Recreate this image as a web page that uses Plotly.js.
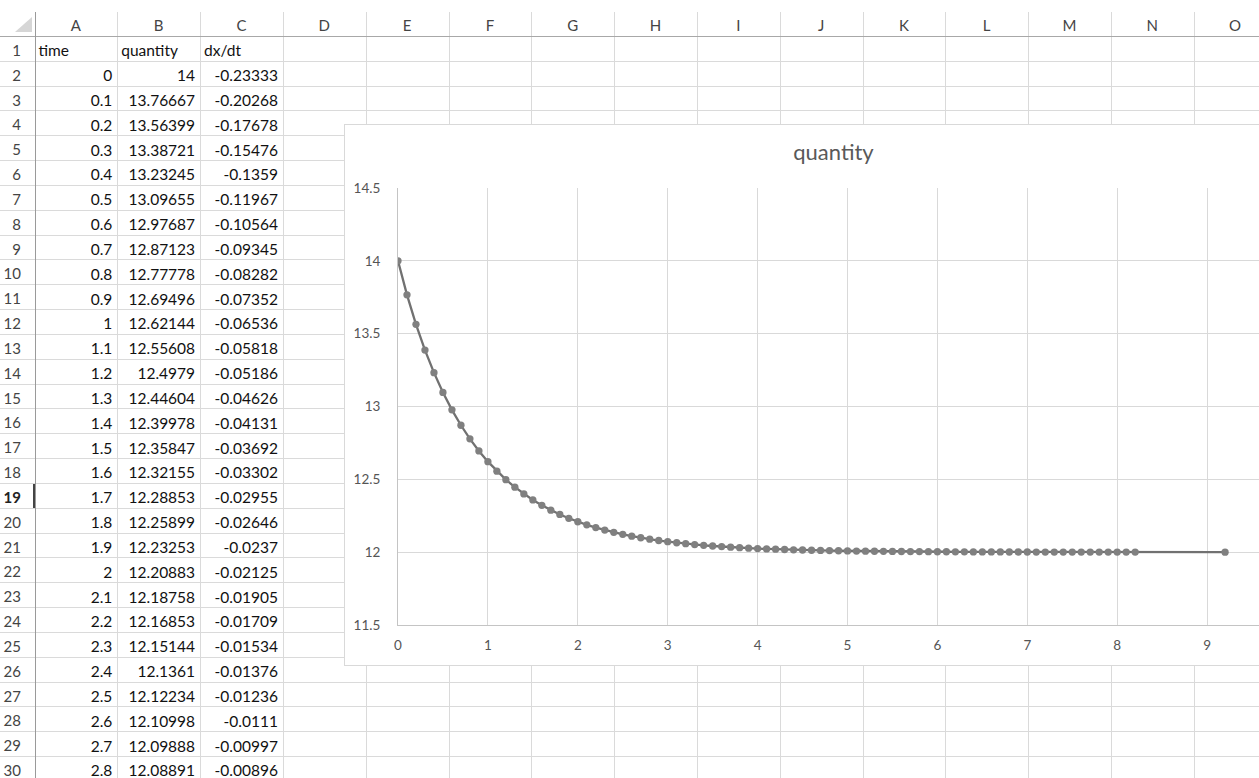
<!DOCTYPE html>
<html>
<head>
<meta charset="utf-8">
<script src="https://cdn.plot.ly/plotly-3.0.1.min.js"></script>
<style>
html,body{margin:0;padding:0;background:#fff;overflow:hidden;width:1259px;height:778px;}
#sheet{position:absolute;left:0;top:0;width:1259px;height:778px;overflow:hidden;font-family:Lato,'Open Sans',sans-serif;}
.hl{position:absolute;height:1px;background:#dadada;}
.vl{position:absolute;width:1px;background:#dadada;}
.t{position:absolute;font-size:15.5px;color:#111;white-space:nowrap;}
#chart{position:absolute;left:344px;top:124px;width:977px;height:540px;border:1px solid #d9d9d9;background:#fff;}
</style>
</head>
<body>
<div id="sheet"></div>
<div id="chart"></div>
<script>
// ---- spreadsheet contents ----
const colLetters = ["A","B","C","D","E","F","G","H","I","J","K","L","M","N","O"];
const headerRow = ["time","quantity","dx/dt"];
const timeLabels = ["0","0.1","0.2","0.3","0.4","0.5","0.6","0.7","0.8","0.9","1","1.1","1.2","1.3","1.4","1.5","1.6","1.7","1.8","1.9","2","2.1","2.2","2.3","2.4","2.5","2.6","2.7","2.8"];
const quantityLabels = ["14","13.76667","13.56399","13.38721","13.23245","13.09655","12.97687","12.87123","12.77778","12.69496","12.62144","12.55608","12.4979","12.44604","12.39978","12.35847","12.32155","12.28853","12.25899","12.23253","12.20883","12.18758","12.16853","12.15144","12.1361","12.12234","12.10998","12.09888","12.08891"];
const dxdtLabels = ["-0.23333","-0.20268","-0.17678","-0.15476","-0.1359","-0.11967","-0.10564","-0.09345","-0.08282","-0.07352","-0.06536","-0.05818","-0.05186","-0.04626","-0.04131","-0.03692","-0.03302","-0.02955","-0.02646","-0.0237","-0.02125","-0.01905","-0.01709","-0.01534","-0.01376","-0.01236","-0.0111","-0.00997","-0.00896"];

// ---- chart series ----
const chartTitle = "quantity";
const xTickVals = [0,1,2,3,4,5,6,7,8,9];
const time = [0,0.1,0.2,0.3,0.4,0.5,0.6,0.7,0.8,0.9,1,1.1,1.2,1.3,1.4,1.5,1.6,1.7,1.8,1.9,2,2.1,2.2,2.3,2.4,2.5,2.6,2.7,2.8,2.9,3,3.1,3.2,3.3,3.4,3.5,3.6,3.7,3.8,3.9,4,4.1,4.2,4.3,4.4,4.5,4.6,4.7,4.8,4.9,5,5.1,5.2,5.3,5.4,5.5,5.6,5.7,5.8,5.9,6,6.1,6.2,6.3,6.4,6.5,6.6,6.7,6.8,6.9,7,7.1,7.2,7.3,7.4,7.5,7.6,7.7,7.8,7.9,8,8.1,8.2,9.2];
const quantity = [14,13.76667,13.56399,13.38721,13.23245,13.09655,12.97687,12.87123,12.77778,12.69496,12.62144,12.55608,12.4979,12.44604,12.39978,12.35847,12.32155,12.28853,12.25899,12.23253,12.20883,12.18758,12.16853,12.15144,12.1361,12.12234,12.10998,12.09888,12.08891,
12.07995,12.0719,12.06467,12.05817,12.05232,12.04707,12.04234,12.03809,12.03427,12.03084,
12.02774,12.02496,12.02246,12.02021,12.01819,12.01637,12.01473,12.01325,12.01193,12.01073,
12.00966,12.00869,12.00782,12.00704,12.00633,12.0057,12.00513,12.00462,12.00416,12.00374,
12.00337,12.00303,12.00273,12.00245,12.00221,12.00199,12.00179,12.00161,12.00145,12.0013,
12.00117,12.00106,12.00095,12.00086,12.00077,12.00069,12.00062,12.00056,12.00051,12.00045,
12.00041,12.00037,12.00033,12.0003,12.0001];

// ---- build the sheet grid ----
const sheet = document.getElementById('sheet');
const HDR_TOP = 12, HDR_BOT = 36, ROW_H = 24.83, ROWHDR_W = 34.5, COL_W = 82.8;
function el(cls, style, text){const d=document.createElement('div');d.className=cls;Object.assign(d.style,style);if(text!==undefined)d.textContent=text;sheet.appendChild(d);return d;}
const nRows = 30;
for(let r=1;r<=nRows;r++){
  const y = Math.round(HDR_BOT + r*ROW_H);
  el('hl',{left:'0px',top:y+'px',width:'1259px'});
}
for(let k=1;k<=colLetters.length;k++){
  const x = Math.round(ROWHDR_W + k*COL_W);
  el('vl',{left:x+'px',top:HDR_TOP+'px',height:(778-HDR_TOP)+'px'});
}
el('hl',{left:'0px',top:HDR_BOT+'px',width:'1259px',background:'#a8a8a8'});
el('vl',{left:Math.round(ROWHDR_W)+'px',top:HDR_TOP+'px',height:(778-HDR_TOP)+'px',background:'#9a9a9a'});
el('', {left:'15px',top:'17px',width:'0px',height:'0px',borderLeft:'17px solid transparent',borderBottom:'15px solid #d6d6d6',position:'absolute'});
colLetters.forEach((c,i)=>{
  el('t',{left:(ROWHDR_W+i*COL_W)+'px',top:(HDR_TOP+0.5)+'px',width:COL_W+'px',height:'24px',lineHeight:'24px',textAlign:'center',color:'#444',fontSize:'15px'},c);
});
for(let r=1;r<=nRows;r++){
  const top = HDR_BOT + (r-1)*ROW_H;
  const s = {left:'0px',top:(top+2)+'px',width:'21px',height:ROW_H+'px',lineHeight:ROW_H+'px',textAlign:'right',color:'#444',fontSize:'15px'};
  if(r===19){s.fontWeight='bold';s.color='#222';}
  el('t',s,String(r));
}
el('vl',{left:'33px',top:Math.round(HDR_BOT+18*ROW_H+1)+'px',height:Math.round(ROW_H-1)+'px',width:'2px',background:'#444'});
function cell(col,row,text,align){
  const top = HDR_BOT + (row-1)*ROW_H;
  const left = ROWHDR_W + col*COL_W;
  const s = {left:(left+4)+'px',top:(top+2.3)+'px',width:(COL_W-9)+'px',height:ROW_H+'px',lineHeight:ROW_H+'px',textAlign:align};
  el('t',s,text);
}
headerRow.forEach((h,i)=>cell(i,1,h,'left'));
for(let i=0;i<timeLabels.length;i++){
  cell(0,i+2,timeLabels[i],'right');
  cell(1,i+2,quantityLabels[i],'right');
  cell(2,i+2,dxdtLabels[i],'right');
}

// ---- chart ----
const tickFont = {family:'Lato, "Open Sans", sans-serif', size:13.5, color:'#555555'};
const trace = {
  type:'scatter', mode:'lines+markers', x:time, y:quantity,
  line:{color:'#717171', width:2.3},
  marker:{size:7.3, color:'#808080'},
  hoverinfo:'skip', showlegend:false
};
const layout = {
  width:977, height:540,
  margin:{l:53, r:25, t:63, b:40, pad:0},
  paper_bgcolor:'#ffffff', plot_bgcolor:'#ffffff',
  showlegend:false,
  title:{text:chartTitle, font:{family:'Lato, "Open Sans", sans-serif', size:22, color:'#595959'},
         x:0.5, xref:'container', xanchor:'center', y:0.95, yref:'container', yanchor:'middle'},
  xaxis:{range:[0,10], tickmode:'array', tickvals:xTickVals, showgrid:true, gridcolor:'#d9d9d9', gridwidth:1,
         zeroline:false, showline:true, linecolor:'#c4c4c4', linewidth:1, ticks:'',
         ticklabelstandoff:8, tickfont:tickFont, fixedrange:true},
  yaxis:{range:[11.5,14.5], tick0:11.5, dtick:0.5, showgrid:true, gridcolor:'#d9d9d9', gridwidth:1,
         zeroline:false, showline:true, linecolor:'#c4c4c4', linewidth:1, ticks:'',
         ticklabelstandoff:14, tickfont:tickFont, fixedrange:true}
};
Plotly.newPlot('chart',[trace],layout,{displayModeBar:false, staticPlot:true});
</script>
</body>
</html>
